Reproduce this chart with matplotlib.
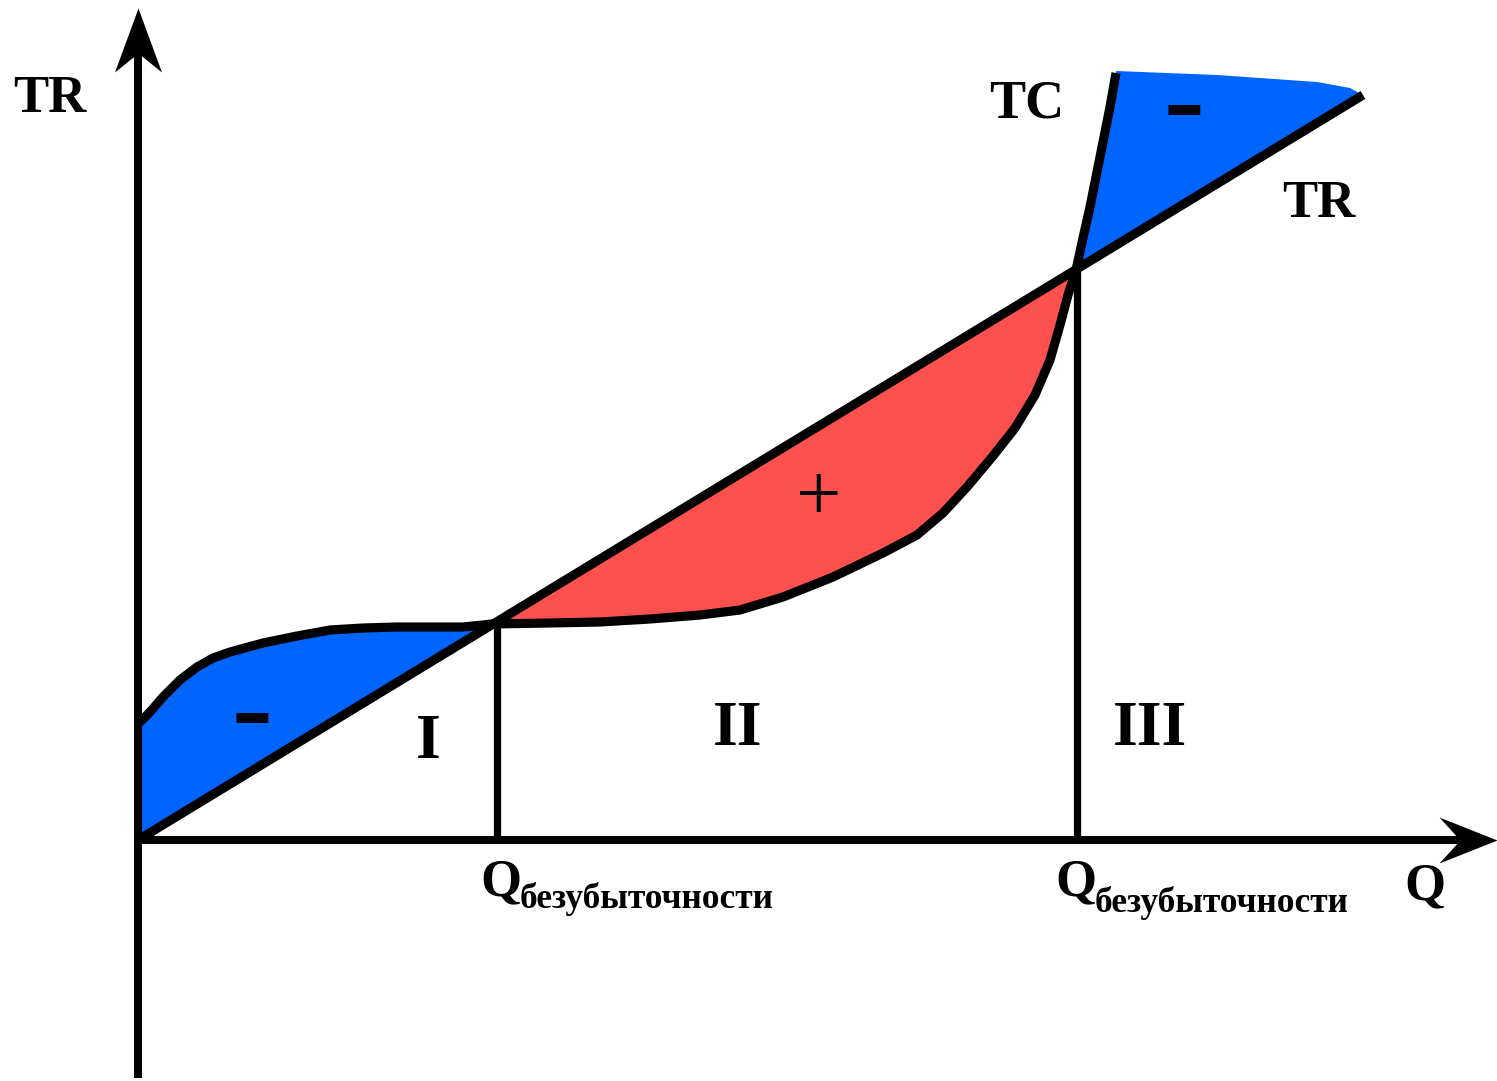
import numpy as np
import matplotlib
matplotlib.use("Agg")
import matplotlib.pyplot as plt
from matplotlib.path import Path

# ---------------- data (Q units / money units, origin at the axes corner) ----
tc_q = [0, 12, 25, 42, 59, 75, 92, 125, 159, 192, 225, 259, 292, 325, 354,
        412, 462, 512, 562, 602, 645, 695, 745, 779, 805, 829, 855, 877, 897,
        912, 922, 930, 938, 945, 952, 962, 972, 978]
tc_v = [116, 128, 143, 160, 173, 182, 188, 197, 204, 210, 212, 213, 213, 213,
        216, 217, 218, 221, 225, 230, 243, 263, 287, 305, 327, 353, 384, 412,
        445, 480, 515, 545, 570, 602, 633, 683, 733, 767]

tr_q = [0, 1225]
tr_v = [0, 745]

# upper boundary of the right-hand loss zone (beyond the TC line)
loss_top_q = [978, 1079, 1179, 1212, 1225]
loss_top_v = [769, 765, 758, 752, 745]

breakeven_q = [359, 939]
breakeven_v = [218, 571]
i_be1, i_be2 = 14, 32   # indices of the TC points at the break-even points

axis_y_range = [-238, 832]   # vertical axis: bottom, arrow tip
axis_x_range = [0, 1359]     # horizontal axis: start, arrow tip

zone_labels = ["I", "II", "III"]
zone_pos = [(290, 82), (600, 95), (1012, 95)]

BLUE = "#0064FF"
RED = "#FF5050"
FONT = "Liberation Serif"

# ---------------- figure ----------------
fig = plt.figure(figsize=(14.97, 10.81), dpi=100)
ax = fig.add_axes([0, 0, 1, 1])
ax.set_xlim(-138, 1359)
ax.set_ylim(-241, 840)
ax.axis("off")

tc_q_a = np.array(tc_q, float)
tc_v_a = np.array(tc_v, float)

# fills
ax.fill(np.r_[tc_q_a[:i_be1 + 1], tr_q[0]],
        np.r_[tc_v_a[:i_be1 + 1], tr_v[0]], color=BLUE, lw=0, zorder=1)
ax.fill(tc_q_a[i_be1:i_be2 + 1], tc_v_a[i_be1:i_be2 + 1],
        color=RED, lw=0, zorder=1)
ax.fill(np.r_[tc_q_a[i_be2:], loss_top_q],
        np.r_[tc_v_a[i_be2:], loss_top_v], color=BLUE, lw=0, zorder=1)

LW = 6.6
ax.plot(tr_q, tr_v, color="black", lw=LW, solid_capstyle="butt", zorder=3)
ax.plot(tc_q, tc_v, color="black", lw=LW, solid_capstyle="butt",
        solid_joinstyle="round", zorder=3)

# break-even verticals
for q, v in zip(breakeven_q, breakeven_v):
    ax.plot([q, q], [0, v], color="black", lw=5.2, solid_capstyle="butt",
            zorder=2)

# axes with arrow heads
up_head = Path([(0, 0), (23.5, -64), (0, -45), (-23.5, -64), (0, 0)],
               [Path.MOVETO, Path.LINETO, Path.LINETO, Path.LINETO,
                Path.CLOSEPOLY])
right_head = Path([(0, 0), (-58, 23), (-37, 0), (-58, -23), (0, 0)],
                  [Path.MOVETO, Path.LINETO, Path.LINETO, Path.LINETO,
                   Path.CLOSEPOLY])
ax.plot([0, 0], [axis_y_range[0], axis_y_range[1] - 45], color="black",
        lw=5.8, solid_capstyle="butt", zorder=4)
ax.plot([0], [axis_y_range[1]], marker=up_head, ms=2 * 64 * 0.72,
        color="black", mew=0, zorder=4)
ax.plot([axis_x_range[0], axis_x_range[1] - 37], [0, 0], color="black",
        lw=5.8, solid_capstyle="butt", zorder=4)
ax.plot([axis_x_range[1]], [0], marker=right_head, ms=2 * 58 * 0.72,
        color="black", mew=0, zorder=4)

# ---------------- text ----------------
bold = dict(family=FONT, fontweight="bold", color="black")
ax.text(-125, 728, "TR", fontsize=38, ha="left", va="baseline", **bold)
ax.text(851, 723, "TC", fontsize=39, ha="left", va="baseline", **bold)
ax.text(1144, 623, "TR", fontsize=38, ha="left", va="baseline", **bold)

for lab, (x, y) in zip(zone_labels, zone_pos):
    ax.text(x, y, lab, fontsize=46, ha="center", va="baseline", **bold)

ax.text(681, 340, "+", fontsize=58, ha="center", va="center",
        family=FONT, color="black", zorder=5)
ax.text(114, 93, "-", fontsize=88, ha="center", va="baseline", **bold,
        zorder=5)
ax.text(1046, 701, "-", fontsize=88, ha="center", va="baseline", **bold,
        zorder=5)

# break-even labels
for qx, base, sub_base, sub_x in [(342, -55, -68, 382), (917, -55, -72, 957)]:
    ax.text(qx, base, "Q", fontsize=38, ha="left", va="baseline", **bold)
    ax.text(sub_x, sub_base, "безубыточности", fontsize=25.5, ha="left",
            va="baseline", **bold)

ax.text(1266, -59, "Q", fontsize=38, ha="left", va="baseline", **bold)

fig.savefig("out.png", dpi=100)
